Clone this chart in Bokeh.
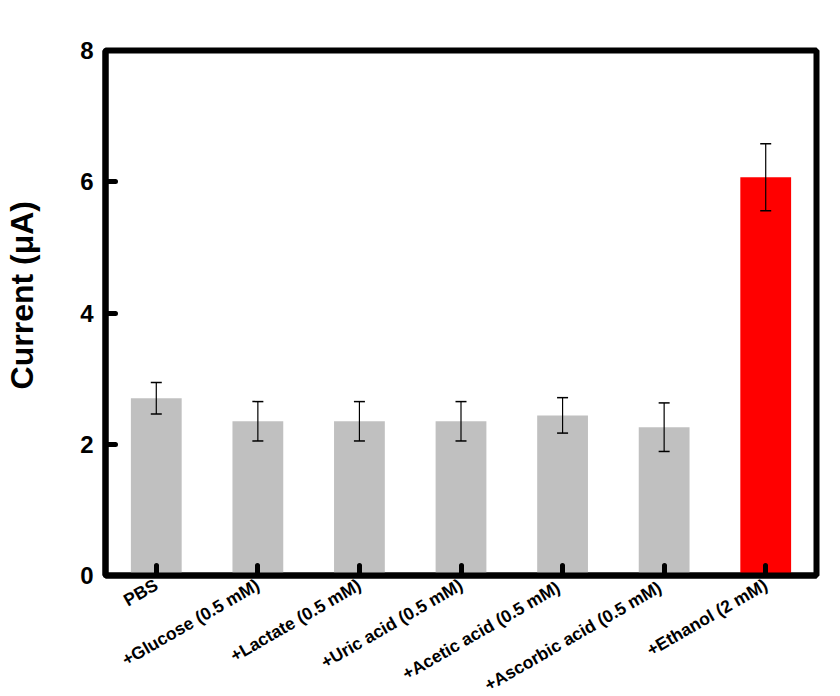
import math
from bokeh.plotting import figure
from bokeh.models import ColumnDataSource, Whisker, TeeHead, FixedTicker, Range1d
from bokeh.embed import file_html
from bokeh.resources import INLINE

categories = ["PBS", "+Glucose (0.5 mM)", "+Lactate (0.5 mM)", "+Uric acid (0.5 mM)",
              "+Acetic acid  (0.5 mM)", "+Ascorbic acid  (0.5 mM)", "+Ethanol (2 mM)"]
values = [2.70, 2.35, 2.35, 2.35, 2.44, 2.26, 6.07]
errors = [0.24, 0.30, 0.30, 0.30, 0.27, 0.37, 0.51]
colors = ["#C0C0C0"] * 6 + ["#FF0000"]
y_ticks = [0, 2, 4, 6, 8]
y_title = "Current (μA)"

xs = list(range(len(categories)))
src = ColumnDataSource(dict(
    x=xs, top=values, color=colors,
    upper=[v + e for v, e in zip(values, errors)],
    lower=[v - e for v, e in zip(values, errors)],
))

FONT = "Liberation Sans"

p = figure(frame_width=711, frame_height=525, output_backend="svg", toolbar_location=None,
           x_range=Range1d(-0.5, 6.5), y_range=Range1d(0, 8),
           min_border_left=105, min_border_top=50, min_border_right=12, min_border_bottom=110)
p.background_fill_color = "white"
p.border_fill_color = "white"
p.outline_line_color = "black"
p.outline_line_width = 6
p.xgrid.visible = False
p.ygrid.visible = False

p.vbar(x="x", top="top", width=0.5, bottom=0, fill_color="color", line_color=None, source=src)

w = Whisker(base="x", upper="upper", lower="lower", source=src, line_color="black", line_width=1.2,
            level="overlay",
            upper_head=TeeHead(size=11, line_color="black", line_width=1.5),
            lower_head=TeeHead(size=11, line_color="black", line_width=1.5))
p.add_layout(w)

for ax in (p.xaxis[0], p.yaxis[0]):
    ax.axis_line_width = 6
    ax.axis_line_color = "black"
    ax.major_tick_in = 10
    ax.major_tick_out = 0
    ax.major_tick_line_width = 5
    ax.major_tick_line_cap = "round"
    ax.minor_tick_line_color = None
    ax.major_label_text_font = FONT
    ax.major_label_text_font_style = "bold"
    ax.major_label_text_color = "black"

p.yaxis.ticker = FixedTicker(ticks=y_ticks)
p.yaxis.major_label_text_font_size = "24px"
p.yaxis.major_label_standoff = 12
# leading no-break spaces nudge the centred title up, as in the original
p.yaxis.axis_label = "\u00a0\u00a0\u00a0\u00a0" + y_title
p.yaxis.axis_label_text_font = FONT
p.yaxis.axis_label_text_font_style = "bold"
p.yaxis.axis_label_text_font_size = "32px"
p.yaxis.axis_label_text_color = "black"
p.yaxis.axis_label_standoff = 37

p.xaxis.ticker = FixedTicker(ticks=xs)
p.xaxis.major_label_overrides = {i: c for i, c in enumerate(categories)}
p.xaxis.major_label_orientation = math.pi / 6
p.xaxis.major_label_text_font_size = "17.5px"
p.xaxis.major_label_standoff = 8

open("out.html", "w").write(file_html(p, INLINE))
